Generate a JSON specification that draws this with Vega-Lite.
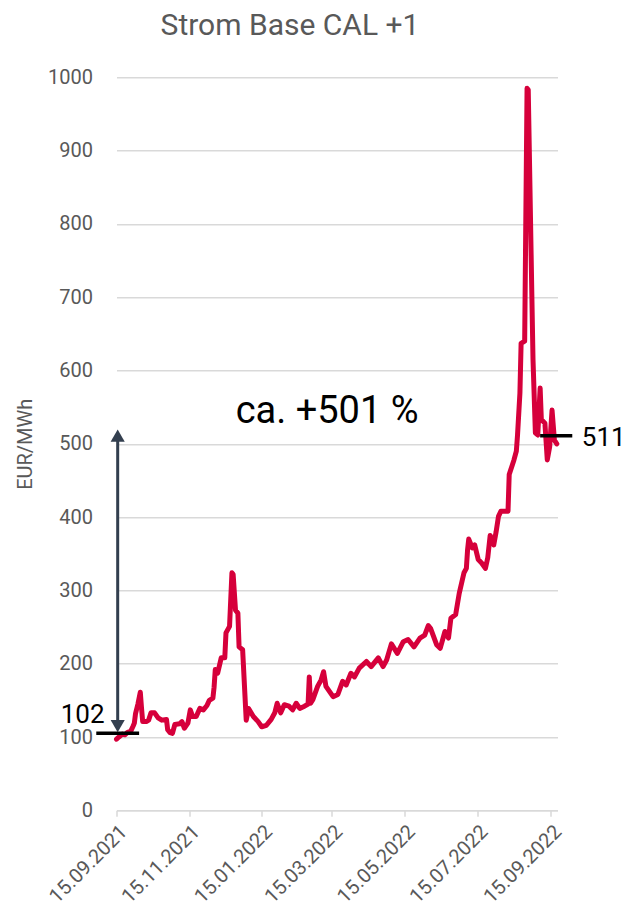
{
  "$schema": "https://vega.github.io/schema/vega-lite/v6.json",
  "autosize": "none",
  "width": 441,
  "height": 733,
  "padding": {"left": 116.5, "top": 77.3, "right": 68.5, "bottom": 100.7},
  "background": "white",
  "config": {
    "font": "Roboto",
    "view": {"stroke": null}
  },
  "title": {
    "text": "Strom Base CAL +1",
    "fontSize": 30,
    "fontWeight": "normal",
    "color": "#595959",
    "anchor": "middle",
    "baseline": "alphabetic",
    "offset": 2,
    "dx": -47
  },
  "datasets": {
    "price": [
      {"date": "2021-09-15", "value": 97},
      {"date": "2021-09-17", "value": 100},
      {"date": "2021-09-20", "value": 104},
      {"date": "2021-09-22", "value": 103},
      {"date": "2021-09-24", "value": 106},
      {"date": "2021-09-27", "value": 108},
      {"date": "2021-09-29", "value": 115},
      {"date": "2021-09-30", "value": 119},
      {"date": "2021-10-01", "value": 132},
      {"date": "2021-10-03", "value": 145},
      {"date": "2021-10-05", "value": 161},
      {"date": "2021-10-06", "value": 140},
      {"date": "2021-10-07", "value": 121},
      {"date": "2021-10-10", "value": 121},
      {"date": "2021-10-12", "value": 123},
      {"date": "2021-10-14", "value": 133},
      {"date": "2021-10-17", "value": 133},
      {"date": "2021-10-20", "value": 126},
      {"date": "2021-10-23", "value": 123},
      {"date": "2021-10-27", "value": 124},
      {"date": "2021-10-28", "value": 110},
      {"date": "2021-10-30", "value": 106},
      {"date": "2021-11-01", "value": 105},
      {"date": "2021-11-03", "value": 117},
      {"date": "2021-11-07", "value": 118},
      {"date": "2021-11-09", "value": 121},
      {"date": "2021-11-11", "value": 112},
      {"date": "2021-11-14", "value": 119},
      {"date": "2021-11-16", "value": 137},
      {"date": "2021-11-18", "value": 128},
      {"date": "2021-11-21", "value": 128},
      {"date": "2021-11-24", "value": 139},
      {"date": "2021-11-27", "value": 137},
      {"date": "2021-11-30", "value": 143},
      {"date": "2021-12-02", "value": 150},
      {"date": "2021-12-05", "value": 153},
      {"date": "2021-12-06", "value": 168},
      {"date": "2021-12-07", "value": 192},
      {"date": "2021-12-09", "value": 187},
      {"date": "2021-12-12", "value": 208},
      {"date": "2021-12-15", "value": 208},
      {"date": "2021-12-16", "value": 242},
      {"date": "2021-12-19", "value": 251},
      {"date": "2021-12-21", "value": 324},
      {"date": "2021-12-22", "value": 322},
      {"date": "2021-12-24", "value": 273},
      {"date": "2021-12-26", "value": 269},
      {"date": "2021-12-27", "value": 223},
      {"date": "2021-12-30", "value": 219},
      {"date": "2022-01-02", "value": 123},
      {"date": "2022-01-04", "value": 139},
      {"date": "2022-01-08", "value": 128},
      {"date": "2022-01-12", "value": 121},
      {"date": "2022-01-15", "value": 114},
      {"date": "2022-01-19", "value": 116},
      {"date": "2022-01-23", "value": 124},
      {"date": "2022-01-26", "value": 133},
      {"date": "2022-01-28", "value": 146},
      {"date": "2022-01-31", "value": 133},
      {"date": "2022-02-03", "value": 144},
      {"date": "2022-02-07", "value": 142},
      {"date": "2022-02-10", "value": 137},
      {"date": "2022-02-13", "value": 146},
      {"date": "2022-02-16", "value": 139},
      {"date": "2022-02-20", "value": 142},
      {"date": "2022-02-23", "value": 145},
      {"date": "2022-02-24", "value": 182},
      {"date": "2022-02-25", "value": 146},
      {"date": "2022-02-27", "value": 151},
      {"date": "2022-03-03", "value": 169},
      {"date": "2022-03-06", "value": 178},
      {"date": "2022-03-08", "value": 189},
      {"date": "2022-03-10", "value": 169},
      {"date": "2022-03-16", "value": 155},
      {"date": "2022-03-20", "value": 158},
      {"date": "2022-03-24", "value": 176},
      {"date": "2022-03-27", "value": 171},
      {"date": "2022-03-31", "value": 187},
      {"date": "2022-04-03", "value": 182},
      {"date": "2022-04-07", "value": 194},
      {"date": "2022-04-13", "value": 203},
      {"date": "2022-04-17", "value": 196},
      {"date": "2022-04-23", "value": 208},
      {"date": "2022-04-27", "value": 196},
      {"date": "2022-04-30", "value": 205},
      {"date": "2022-05-04", "value": 227},
      {"date": "2022-05-09", "value": 214},
      {"date": "2022-05-14", "value": 230},
      {"date": "2022-05-18", "value": 233},
      {"date": "2022-05-23", "value": 223},
      {"date": "2022-05-28", "value": 235},
      {"date": "2022-06-01", "value": 239},
      {"date": "2022-06-04", "value": 252},
      {"date": "2022-06-06", "value": 248},
      {"date": "2022-06-11", "value": 226},
      {"date": "2022-06-14", "value": 221},
      {"date": "2022-06-18", "value": 244},
      {"date": "2022-06-21", "value": 235},
      {"date": "2022-06-23", "value": 262},
      {"date": "2022-06-27", "value": 267},
      {"date": "2022-06-30", "value": 296},
      {"date": "2022-07-04", "value": 324},
      {"date": "2022-07-06", "value": 330},
      {"date": "2022-07-07", "value": 355},
      {"date": "2022-07-08", "value": 370},
      {"date": "2022-07-11", "value": 358},
      {"date": "2022-07-13", "value": 362},
      {"date": "2022-07-16", "value": 342},
      {"date": "2022-07-19", "value": 337},
      {"date": "2022-07-22", "value": 330},
      {"date": "2022-07-24", "value": 345},
      {"date": "2022-07-26", "value": 375},
      {"date": "2022-07-29", "value": 362},
      {"date": "2022-07-31", "value": 380},
      {"date": "2022-08-02", "value": 401},
      {"date": "2022-08-04", "value": 408},
      {"date": "2022-08-10", "value": 408},
      {"date": "2022-08-11", "value": 458},
      {"date": "2022-08-15", "value": 478},
      {"date": "2022-08-17", "value": 490},
      {"date": "2022-08-18", "value": 512},
      {"date": "2022-08-20", "value": 569},
      {"date": "2022-08-21", "value": 637},
      {"date": "2022-08-24", "value": 640},
      {"date": "2022-08-26", "value": 985},
      {"date": "2022-08-27", "value": 983},
      {"date": "2022-08-30", "value": 705},
      {"date": "2022-08-31", "value": 615},
      {"date": "2022-09-02", "value": 515},
      {"date": "2022-09-04", "value": 512},
      {"date": "2022-09-06", "value": 576},
      {"date": "2022-09-07", "value": 533},
      {"date": "2022-09-10", "value": 528},
      {"date": "2022-09-12", "value": 478},
      {"date": "2022-09-14", "value": 496},
      {"date": "2022-09-16", "value": 546},
      {"date": "2022-09-18", "value": 505},
      {"date": "2022-09-20", "value": 500}
    ]
  },
  "layer": [
    {
      "data": {"name": "price"},
      "mark": {"type": "line", "color": "#d6003b", "strokeWidth": 5, "strokeJoin": "round", "strokeCap": "round", "clip": false},
      "encoding": {
        "x": {
          "field": "date", "type": "temporal",
          "scale": {"type": "utc", "nice": false, "domain": [{"year": 2021, "month": 9, "date": 15, "utc": true}, {"year": 2022, "month": 9, "date": 20, "hours": 14, "utc": true}]},
          "axis": {
            "title": null,
            "values": [
              {"year": 2021, "month": 9, "date": 15, "utc": true},
              {"year": 2021, "month": 11, "date": 15, "utc": true},
              {"year": 2022, "month": 1, "date": 15, "utc": true},
              {"year": 2022, "month": 3, "date": 15, "utc": true},
              {"year": 2022, "month": 5, "date": 15, "utc": true},
              {"year": 2022, "month": 7, "date": 15, "utc": true},
              {"year": 2022, "month": 9, "date": 15, "utc": true}
            ],
            "format": "%d.%m.%Y",
            "labelAngle": -45,
            "labelAlign": "right",
            "labelBaseline": "top",
            "labelFontSize": 20,
            "labelColor": "#595959",
            "labelPadding": 5,
            "labelFlush": false,
            "labelOverlap": false,
            "grid": false,
            "domainColor": "#d9d9d9",
            "domainWidth": 1.5,
            "tickColor": "#d9d9d9",
            "tickWidth": 1.5,
            "tickSize": 6
          }
        },
        "y": {
          "field": "value", "type": "quantitative",
          "scale": {"domain": [0, 1000], "nice": false},
          "axis": {
            "title": "EUR/MWh",
            "titleFontSize": 20,
            "titleFontWeight": "normal",
            "titleColor": "#595959",
            "titlePadding": 12,
            "values": [0, 100, 200, 300, 400, 500, 600, 700, 800, 900, 1000],
            "format": "d",
            "labelFontSize": 20,
            "labelColor": "#595959",
            "labelPadding": 24,
            "ticks": false,
            "tickSize": 0,
            "domain": false,
            "gridColor": "#d9d9d9",
            "gridWidth": 1.5
          }
        }
      }
    },
    {
      "data": {"values": [{"date": "2021-09-16", "from": 112, "to": 508}]},
      "mark": {"type": "rule", "color": "#333f4f", "strokeWidth": 3, "clip": false},
      "encoding": {
        "x": {"field": "date", "type": "temporal"},
        "y": {"field": "from", "type": "quantitative"},
        "y2": {"field": "to"}
      }
    },
    {
      "data": {"values": [{"date": "2021-09-16", "value": 511}]},
      "mark": {"type": "point", "shape": "triangle-up", "filled": true, "color": "#333f4f", "size": 200, "opacity": 1, "clip": false},
      "encoding": {
        "x": {"field": "date", "type": "temporal"},
        "y": {"field": "value", "type": "quantitative"}
      }
    },
    {
      "data": {"values": [{"date": "2021-09-16", "value": 115}]},
      "mark": {"type": "point", "shape": "triangle-down", "filled": true, "color": "#333f4f", "size": 200, "opacity": 1, "clip": false},
      "encoding": {
        "x": {"field": "date", "type": "temporal"},
        "y": {"field": "value", "type": "quantitative"}
      }
    },
    {
      "data": {"values": [
        {"start": "2021-08-29", "end": "2021-10-04", "value": 105},
        {"start": "2022-09-06", "end": "2022-10-03", "value": 511}
      ]},
      "mark": {"type": "rule", "color": "#000000", "strokeWidth": 3.5, "clip": false},
      "encoding": {
        "x": {"field": "start", "type": "temporal"},
        "x2": {"field": "end"},
        "y": {"field": "value", "type": "quantitative"}
      }
    },
    {
      "data": {"values": [{"date": "2021-09-05", "value": 119, "label": "102"}]},
      "mark": {"type": "text", "align": "right", "baseline": "alphabetic", "fontSize": 26, "color": "#000000", "clip": false},
      "encoding": {
        "x": {"field": "date", "type": "temporal"},
        "y": {"field": "value", "type": "quantitative"},
        "text": {"field": "label"}
      }
    },
    {
      "data": {"values": [{"date": "2022-10-11", "value": 497, "label": "511"}]},
      "mark": {"type": "text", "align": "left", "baseline": "alphabetic", "fontSize": 26, "color": "#000000", "clip": false},
      "encoding": {
        "x": {"field": "date", "type": "temporal"},
        "y": {"field": "value", "type": "quantitative"},
        "text": {"field": "label"}
      }
    },
    {
      "data": {"values": [{"date": "2022-03-11", "value": 529, "label": "ca. +501 %"}]},
      "mark": {"type": "text", "align": "center", "baseline": "alphabetic", "fontSize": 38, "color": "#000000", "clip": false},
      "encoding": {
        "x": {"field": "date", "type": "temporal"},
        "y": {"field": "value", "type": "quantitative"},
        "text": {"field": "label"}
      }
    }
  ]
}
